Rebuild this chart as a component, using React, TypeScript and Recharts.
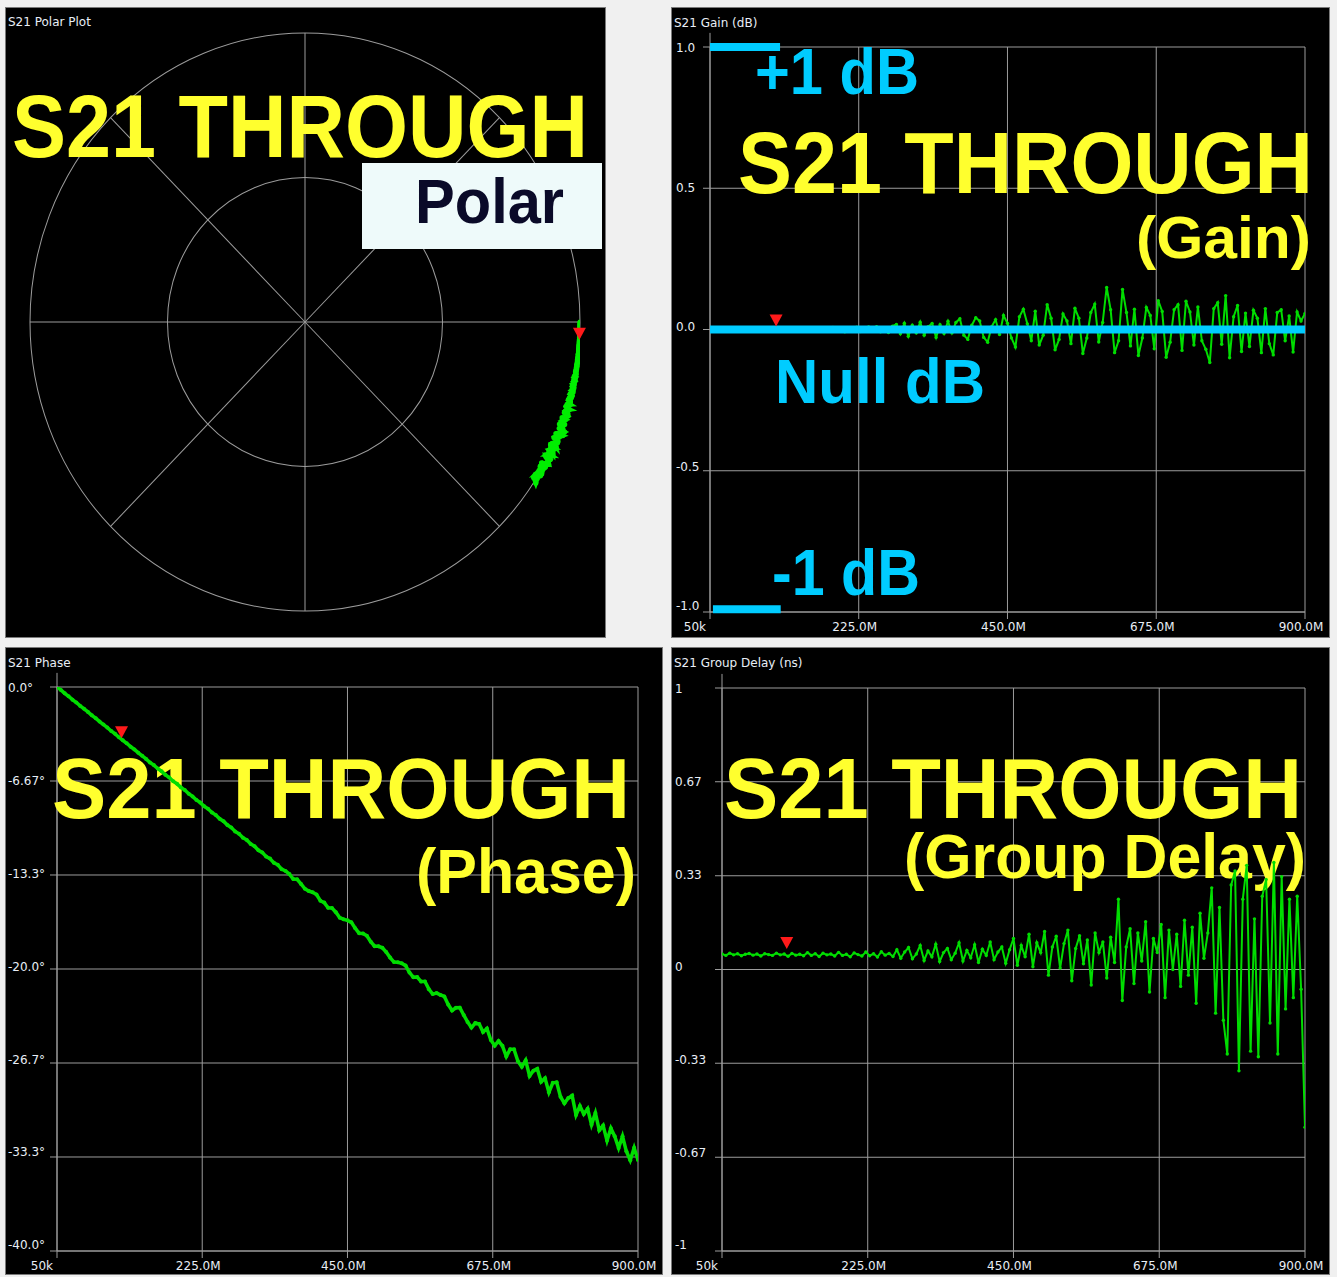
import React from 'react';
import {
  LineChart, Line, XAxis, YAxis, CartesianGrid, ReferenceLine, ReferenceDot,
  ScatterChart, Scatter, RadarChart, PolarGrid, PolarAngleAxis, PolarRadiusAxis,
} from 'recharts';

// ---------------- DATA ----------------
const FREQ_MHZ = [0.05,6,12,18,24,30,36,42,48,54,60,66,72,78,84,90,96,102,108,114,120,126,132,138,144,150,156,162,168,174,180,186,192,198,204,210,216,222,228,234,240,246,252,258,264,270,276,282,288,294,300,306,312,318,324,330,336,342,348,354,360,366,372,378,384,390,396,402,408,414,420,426,432,438,444,450,456,462,468,474,480,486,492,498,504,510,516,522,528,534,540,546,552,558,564,570,576,582,588,594,600,606,612,618,624,630,636,642,648,654,660,666,672,678,684,690,696,702,708,714,720,726,732,738,744,750,756,762,768,774,780,786,792,798,804,810,816,822,828,834,840,846,852,858,864,870,876,882,888,894,900];

const GAIN_DB = [
  0.002,-0.003,0.004,-0.002,0.001,-0.004,0.003,0.000,-0.003,0.005,-0.002,0.003,-0.004,0.002,-0.001,0.004,-0.003,0.002,-0.005,0.003,0.001,-0.004,0.005,-0.002,0.003,-0.006,0.004,-0.001,0.006,-0.005,0.002,0.007,-0.004,0.005,-0.008,0.006,-0.003,0.008,-0.007,0.004,0.009,-0.006,0.010,-0.008,0.006,-0.011,0.012,
  0.018,-0.015,0.022,-0.024,0.015,-0.012,0.026,-0.020,0.010,0.021,-0.028,0.017,-0.014,0.029,
  -0.012,0.025,0.038,-0.020,-0.035,0.015,0.042,0.030,-0.028,-0.045,0.010,0.035,-0.018,0.050,0.022,
  -0.030,-0.062,0.045,0.072,0.020,-0.040,0.065,-0.055,-0.020,0.088,0.040,-0.072,-0.035,0.055,0.030,
  -0.050,0.075,0.040,-0.085,-0.030,0.060,0.090,-0.044,0.025,0.149,0.070,-0.082,-0.040,0.142,0.060,
  -0.058,0.072,-0.092,-0.030,0.078,0.050,-0.068,0.102,0.064,-0.098,-0.045,0.070,0.088,-0.074,0.100,
  0.062,-0.055,0.080,-0.040,-0.070,-0.117,0.074,0.095,-0.052,0.120,-0.100,0.045,0.085,-0.078,0.058,
  -0.060,0.068,0.040,-0.082,0.074,-0.050,-0.090,0.060,0.070,-0.040,0.048,-0.080,0.062,0.030,0.057,
];

const PHASE_DEG = [
  0.00,-0.21,-0.45,-0.66,-0.90,-1.10,-1.34,-1.55,-1.77,-2.01,-2.21,-2.45,-2.66,-2.88,-3.12,-3.32,-3.56,-3.78,-3.99,-4.23,
  -4.43,-4.67,-4.88,-5.10,-5.35,-5.54,-5.78,-5.98,-6.23,-6.42,-6.68,-6.87,-7.12,-7.31,-7.57,-7.76,-8.01,-8.20,-8.46,-8.64,
  -8.90,-9.08,-9.35,-9.52,-9.79,-9.97,-10.24,-10.41,-10.69,-10.85,-11.13,-11.29,-11.58,-11.73,-12.03,-12.17,-12.47,-12.61,-12.92,-13.05,
  -13.27,-13.62,-13.64,-13.97,-14.31,-14.47,-14.56,-14.72,-15.16,-15.29,-15.66,-15.68,-15.97,-16.36,-16.48,-16.55,-16.69,-17.11,-17.46,-17.48,
  -17.64,-18.06,-18.38,-18.39,-18.50,-18.80,-19.19,-19.51,-19.52,-19.60,-19.76,-20.25,-20.58,-20.57,-20.89,-20.89,-21.43,-21.78,-21.71,-21.84,
  -21.95,-22.52,-22.94,-22.75,-22.74,-23.26,-23.75,-24.15,-23.83,-23.90,-24.47,-24.22,-25.04,-25.44,-25.11,-25.45,-26.20,-25.69,-25.70,-26.54,
  -26.94,-26.48,-27.58,-27.21,-27.08,-28.00,-27.75,-28.74,-28.07,-28.04,-29.06,-29.53,-29.15,-28.98,-30.35,-29.72,-30.29,-29.91,-31.04,-30.21,
  -31.43,-31.10,-32.17,-31.30,-31.87,-32.69,-31.86,-32.93,-33.56,-32.68,-33.55,
];

const GD_NS = [
  0.055,0.050,0.058,0.052,0.056,0.049,0.054,0.057,0.051,0.055,0.048,0.056,0.053,0.050,0.058,0.052,0.055,0.047,0.057,0.051,0.054,0.049,0.060,0.050,0.056,0.046,0.058,0.052,0.055,0.048,0.061,0.050,0.054,0.045,0.059,0.053,0.048,0.062,0.049,0.056,0.044,0.063,0.051,0.057,0.046,
  0.070,0.040,0.062,0.078,0.038,0.055,0.085,0.032,0.066,0.045,0.090,0.028,0.060,0.075,0.035,0.058,0.095,0.030,0.068,0.042,0.088,0.025,0.072,0.050,0.098,0.035,0.062,0.080,0.022,0.070,
  0.110,0.015,0.085,0.045,0.125,0.010,0.095,0.060,0.135,-0.020,0.080,0.118,0.005,0.092,0.140,-0.040,0.075,0.120,0.020,0.105,-0.055,0.130,0.060,0.098,-0.030,
  0.115,0.025,0.250,-0.110,0.080,0.145,-0.050,0.130,0.030,0.170,-0.080,0.110,0.060,0.160,-0.100,0.140,0.000,0.125,-0.060,0.175,
  -0.020,0.150,-0.120,0.200,0.040,0.130,0.290,-0.155,0.220,-0.180,-0.300,0.300,0.350,-0.360,0.250,0.370,-0.290,0.180,-0.310,0.260,0.320,-0.190,0.380,-0.300,0.330,-0.140,0.250,-0.100,0.260,-0.070,-0.560,
];

// marker (100 MHz)
const MARKER_F = 100;
const MARKER_GAIN = 0.0;
const MARKER_PHASE = -3.7;
const MARKER_GD = 0.062;

// x axis
const X_DOMAIN = [0.05, 900];
const X_TICKS = [0.05, 225, 450, 675, 900];
const X_TICK_LABELS = ['50k', '225.0M', '450.0M', '675.0M', '900.0M'];

// y axes
const GAIN_TICKS = [-1, -0.5, 0, 0.5, 1];
const GAIN_LABELS = ['-1.0', '-0.5', '0.0', '0.5', '1.0'];
const PHASE_TICKS = [-40, -33.333, -26.667, -20, -13.333, -6.667, 0];
const PHASE_LABELS = ['-40.0°', '-33.3°', '-26.7°', '-20.0°', '-13.3°', '-6.67°', '0.0°'];
const GD_TICKS = [-1, -0.667, -0.333, 0, 0.333, 0.667, 1];
const GD_LABELS = ['-1', '-0.67', '-0.33', '0', '0.33', '0.67', '1'];

// cyan limit bars on the gain plot (+1 dB / -1 dB)
const CYAN_BARS = [
  { f1: 0.05, f2: 106, y: 1.0 },
  { f1: 4.5, f2: 107, y: -0.99 },
];

// polar grid
const SPOKE_ANGLES = [0, 45, 90, 135, 180, 225, 270, 315];
const POLAR_RINGS = [0.5, 1.0];

// ---------------- TABLES ----------------
const ROWS = FREQ_MHZ.map((f, i) => ({ f, gain: GAIN_DB[i], phase: PHASE_DEG[i], gd: GD_NS[i] }));
const toRe = (g: number, p: number) => Math.pow(10, g / 20) * Math.cos((p * Math.PI) / 180);
const toIm = (g: number, p: number) => Math.pow(10, g / 20) * Math.sin((p * Math.PI) / 180);
const POLAR_ROWS = FREQ_MHZ.map((f, i) => ({ re: toRe(GAIN_DB[i], PHASE_DEG[i]), im: toIm(GAIN_DB[i], PHASE_DEG[i]) }));
const MARKER_RE = toRe(MARKER_GAIN, MARKER_PHASE);
const MARKER_IM = toIm(MARKER_GAIN, MARKER_PHASE);

// ---------------- STYLE ----------------
const GRID = '#9c9c9c';
const LABEL = '#e8eef6';
const TRACE = '#00dd00';
const YELLOW = '#ffff2e';
const CYAN = '#00ccff';
const SMALL = '"DejaVu Sans", Verdana, sans-serif';
const BIG = '"Liberation Sans", Arial, sans-serif';
const FS = 12;

type Ann = { t: string; x: number; y: number; s: number; w: number; c: string };

const AnnText = ({ a }: { a: Ann }) => (
  <text x={a.x} y={a.y} fontSize={a.s} fontWeight="bold" fontFamily={BIG} fill={a.c}
    textLength={a.w} lengthAdjust="spacingAndGlyphs">{a.t}</text>
);

const Title = ({ text, x, y }: { text: string; x: number; y: number }) => (
  <text x={x} y={y} fontSize={FS} fontFamily={SMALL} fill={LABEL}>{text}</text>
);

const Triangle = (tipOffset: number) => (p: any) => {
  const cx = p.cx, cy = p.cy - tipOffset;
  return <path d={`M${cx - 6.5},${cy - 12} L${cx + 6.5},${cy - 12} L${cx},${cy} Z`} fill="#ff1a1a" />;
};

const XTick = (p: any) => {
  const v = p.payload.value;
  const first = v === X_TICKS[0];
  return (
    <text x={p.x - 4} y={p.y + 10} textAnchor={first ? 'end' : 'middle'}
      fontSize={FS} fontFamily={SMALL} fill={LABEL}>
      {X_TICK_LABELS[X_TICKS.indexOf(v)]}
    </text>
  );
};

const abs: React.CSSProperties = { position: 'absolute', left: 0, top: 0 };

function CartPanel(props: any) {
  const { left, top, width, height, margin, yw, xh, title, dataKey, dom, yTicks, yLabels, labelX,
    ext, markerY, markerTip, lineW, dotR, under, over, cyanLayer } = props;

  const YTick = (p: any) => {
    const v = p.payload.value;
    const t = (dom[1] - v) / (dom[1] - dom[0]);
    const off = 1 - 7 * t;
    return (
      <text x={labelX} y={p.y + off + 4.3} textAnchor="start" fontSize={FS} fontFamily={SMALL} fill={LABEL}>
        {yLabels[yTicks.indexOf(v)]}
      </text>
    );
  };

  const hiddenAxes = [
    <XAxis key="x" dataKey="f" type="number" domain={X_DOMAIN} ticks={X_TICKS} allowDataOverflow height={xh}
      tick={false} axisLine={false} tickLine={false} />,
    <YAxis key="y" type="number" domain={dom} ticks={yTicks} allowDataOverflow width={yw}
      tick={false} axisLine={false} tickLine={false} />,
  ];

  return (
    <div style={{ position: 'absolute', left, top, width, height, background: '#000', boxShadow: 'inset 0 0 0 1px #7a7a7a' }}>
      {/* grid & axes */}
      <div style={abs}>
        <LineChart width={width} height={height} data={ROWS} margin={margin}>
          <CartesianGrid stroke={GRID} strokeWidth={1} />
          <XAxis dataKey="f" type="number" domain={X_DOMAIN} ticks={X_TICKS} allowDataOverflow height={xh}
            interval={0} tickSize={7} stroke={GRID} tick={XTick} />
          <YAxis type="number" domain={dom} ticks={yTicks} allowDataOverflow width={yw}
            interval={0} tickSize={7} stroke={GRID} tick={YTick} />
          <ReferenceLine segment={[{ x: X_DOMAIN[0], y: dom[1] }, { x: X_DOMAIN[0], y: dom[1] + ext }]}
            stroke={GRID} ifOverflow="visible" />
        </LineChart>
      </div>
      {/* annotations under trace */}
      <svg width={width} height={height} style={abs}>
        <Title text={title} x={3} y={20} />
        {under.map((a: Ann, i: number) => <AnnText key={i} a={a} />)}
      </svg>
      {/* trace */}
      <div style={abs}>
        <LineChart width={width} height={height} data={ROWS} margin={margin}>
          {hiddenAxes}
          <Line dataKey={dataKey} type="linear" stroke={TRACE} strokeWidth={lineW}
            dot={{ r: dotR, fill: TRACE, stroke: 'none' }} isAnimationActive={false} />
        </LineChart>
      </div>
      {/* cyan lines + marker */}
      <div style={abs}>
        <LineChart width={width} height={height} data={ROWS} margin={margin}>
          {hiddenAxes}
          {cyanLayer}
          <ReferenceDot x={MARKER_F} y={markerY} r={6} shape={Triangle(markerTip)} ifOverflow="visible" />
        </LineChart>
      </div>
      <svg width={width} height={height} style={abs}>
        {over.map((a: Ann, i: number) => <AnnText key={i} a={a} />)}
      </svg>
    </div>
  );
}

function PolarPanel() {
  const W = 601, H = 631;
  const spokeData = SPOKE_ANGLES.map((a) => ({ a }));
  return (
    <div style={{ position: 'absolute', left: 5, top: 7, width: W, height: H, background: '#000', boxShadow: 'inset 0 0 0 1px #7a7a7a' }}>
      <div style={{ position: 'absolute', left: 20, top: 35, width: 560, height: 560, transform: 'scaleY(1.0509)', transformOrigin: '280px 280px' }}>
        <RadarChart width={560} height={560} data={spokeData} outerRadius={275} margin={{ top: 0, right: 0, bottom: 0, left: 0 }}>
          <PolarGrid gridType="circle" polarAngles={SPOKE_ANGLES} polarRadius={POLAR_RINGS.map((r) => r * 275)}
            stroke={GRID} strokeWidth={1} />
          <PolarAngleAxis dataKey="a" tick={false} axisLine={false} tickLine={false} />
          <PolarRadiusAxis tick={false} axisLine={false} tickLine={false} />
        </RadarChart>
      </div>
      <svg width={W} height={H} style={abs}>
        <Title text="S21 Polar Plot" x={3} y={19} />
        <AnnText a={{ t: 'S21 THROUGH', x: 7, y: 150, s: 89, w: 576, c: YELLOW }} />
        <rect x={357} y={156} width={240} height={86} fill="#eefafa" />
        <AnnText a={{ t: 'Polar', x: 410, y: 216, s: 63, w: 149, c: '#0a0a28' }} />
      </svg>
      <div style={abs}>
        <ScatterChart width={W} height={H} margin={{ top: 26, right: 26, bottom: 27, left: 25 }}>
          <XAxis type="number" dataKey="re" domain={[-1, 1]} allowDataOverflow hide />
          <YAxis type="number" dataKey="im" domain={[-1, 1]} allowDataOverflow hide />
          <Scatter data={POLAR_ROWS} fill="#00ee00" isAnimationActive={false}
            line={{ stroke: '#00ee00', strokeWidth: 4.5 }}
            shape={(p: any) => <circle cx={p.cx} cy={p.cy} r={2.6} fill="#00ee00" />} />
          <ReferenceDot x={MARKER_RE} y={MARKER_IM} r={6} shape={Triangle(1)} ifOverflow="visible" />
        </ScatterChart>
      </div>
    </div>
  );
}

export default function App() {
  const gainCyan = [
    <ReferenceLine key="null" y={0} stroke={CYAN} strokeWidth={8} ifOverflow="visible" />,
    ...CYAN_BARS.map((b, i) => (
      <ReferenceLine key={'b' + i} segment={[{ x: b.f1, y: b.y }, { x: b.f2, y: b.y }]}
        stroke={CYAN} strokeWidth={8} ifOverflow="visible" />
    )),
  ];
  return (
    <div style={{ position: 'absolute', left: 0, top: 0, width: 1337, height: 1277, background: '#f0f0f0', overflow: 'hidden' }}>
      <PolarPanel />
      <CartPanel
        left={671} top={7} width={659} height={631}
        margin={{ top: 40, right: 25, bottom: 0, left: 0 }} yw={39} xh={26}
        title="S21 Gain (dB)" dataKey="gain" dom={[-1, 1]} yTicks={GAIN_TICKS} yLabels={GAIN_LABELS}
        labelX={5} ext={0.05} markerY={MARKER_GAIN} markerTip={3} lineW={2} dotR={1.7}
        cyanLayer={gainCyan}
        under={[
          { t: 'S21 THROUGH', x: 67, y: 186, s: 87, w: 575, c: YELLOW },
          { t: '(Gain)', x: 465, y: 251, s: 60, w: 175, c: YELLOW },
        ]}
        over={[
          { t: '+1 dB', x: 84, y: 87, s: 64, w: 164, c: CYAN },
          { t: 'Null dB', x: 104, y: 396, s: 63, w: 210, c: CYAN },
          { t: '-1 dB', x: 101, y: 588, s: 64, w: 148, c: CYAN },
        ]}
      />
      <CartPanel
        left={5} top={647} width={658} height={628}
        margin={{ top: 40, right: 25, bottom: 0, left: 0 }} yw={52} xh={24}
        title="S21 Phase" dataKey="phase" dom={[-40, 0]} yTicks={PHASE_TICKS} yLabels={PHASE_LABELS}
        labelX={3} ext={1} markerY={MARKER_PHASE} markerTip={1} lineW={3.5} dotR={2}
        cyanLayer={[]}
        under={[
          { t: 'S21 THROUGH', x: 47, y: 171, s: 86, w: 578, c: YELLOW },
          { t: '(Phase)', x: 411, y: 246, s: 63, w: 220, c: YELLOW },
        ]}
        over={[]}
      />
      <CartPanel
        left={671} top={647} width={659} height={628}
        margin={{ top: 41, right: 25, bottom: 0, left: 0 }} yw={51} xh={24}
        title="S21 Group Delay (ns)" dataKey="gd" dom={[-1, 1]} yTicks={GD_TICKS} yLabels={GD_LABELS}
        labelX={4} ext={0.05} markerY={MARKER_GD} markerTip={3} lineW={2} dotR={1.7}
        cyanLayer={[]}
        under={[
          { t: 'S21 THROUGH', x: 53, y: 171, s: 86, w: 578, c: YELLOW },
          { t: '(Group Delay)', x: 233, y: 231, s: 63, w: 402, c: YELLOW },
        ]}
        over={[]}
      />
    </div>
  );
}
